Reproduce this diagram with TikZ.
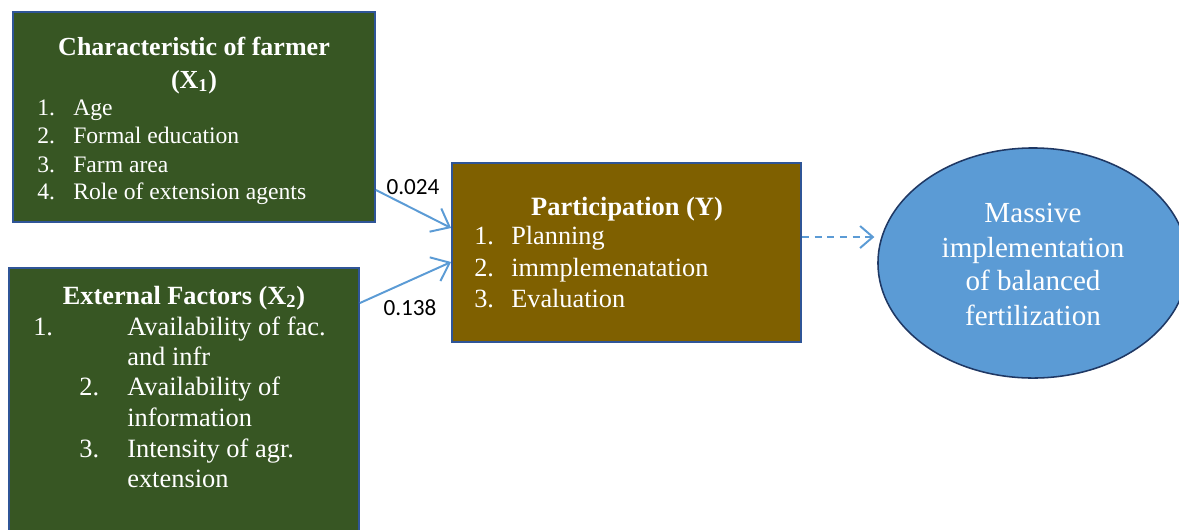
\documentclass[tikz,border=0pt]{standalone}
\usepackage{fontspec}
\setmainfont{Liberation Serif}
\newfontfamily\numfont{Carlito}
\usetikzlibrary{arrows.meta,shapes.geometric}
\definecolor{farmgreen}{HTML}{375623}
\definecolor{partbrown}{HTML}{7F6000}
\definecolor{ovalblue}{HTML}{5B9BD5}
\definecolor{edgeblue}{HTML}{2F5597}
\definecolor{ovaledge}{HTML}{1F3864}
\definecolor{arrowblue}{HTML}{5B9BD5}
\begin{document}
\begin{tikzpicture}[x=0.025cm,y=-0.025cm]
        \useasboundingbox (0,0) rectangle (1179,529);
        \begin{scope}[every node/.style={draw=edgeblue,line width=1.2pt,inner sep=0pt}]
            \node[fill=farmgreen,minimum width=9.05cm,minimum height=5.25cm] (x1) at (194,117) {};
            \node[fill=farmgreen,minimum width=8.75cm,minimum height=6.925cm] (x2) at (184,406.5) {};
            \node[fill=partbrown,minimum width=8.725cm,minimum height=4.475cm] (y) at (626.5,252.5) {};
            \node[ellipse,fill=ovalblue,draw=ovaledge,line width=1.1pt,minimum width=7.75cm,minimum height=5.75cm] (m) at (1033,263) {};
        \end{scope}
        \begin{scope}[every node/.style={text=white,inner sep=0pt,anchor=base west}]
            % characteristic of farmer
            \node[anchor=base,font=\fontsize{18.5}{22}\selectfont\bfseries] (x1t) at (194,55) {Characteristic of farmer};
            \node[anchor=base,font=\fontsize{18.5}{22}\selectfont\bfseries] (x1s) at (194,88) {(X\textsubscript{1})};
            \foreach \num/\txt/\yy in {1/Age/115,2/Formal education/143,3/Farm area/172,4/Role of extension agents/199}{
                \node[font=\fontsize{16.8}{20}\selectfont] (x1n\num) at (37,\yy) {\num.};
                \node[font=\fontsize{16.8}{20}\selectfont] (x1i\num) at (73,\yy) {\txt};
            }
            % external factors
            \node[anchor=base,font=\fontsize{18.7}{22}\selectfont\bfseries] (x2t) at (184,304) {External Factors (X\textsubscript{2})};
            \node[font=\fontsize{18.8}{22}\selectfont] (x2n1) at (33,335) {1.};
            \node[font=\fontsize{18.8}{22}\selectfont] (x2n2) at (79,395) {2.};
            \node[font=\fontsize{18.8}{22}\selectfont] (x2n3) at (79,457) {3.};
            \foreach \txt/\yy [count=\k] in {Availability of fac./335,and infr/365,Availability of/395,information/426,Intensity of agr./457,extension/487}{
                \node[font=\fontsize{18.8}{22}\selectfont] (x2i\k) at (127,\yy) {\txt};
            }
            % participation
            \node[anchor=base,font=\fontsize{18.8}{22}\selectfont\bfseries] (yt) at (627,215) {Participation (Y)};
            \foreach \num/\txt/\yy in {1/Planning/244,2/immplemenatation/276,3/Evaluation/307}{
                \node[font=\fontsize{18.7}{22}\selectfont] (yn\num) at (474,\yy) {\num.};
                \node[font=\fontsize{18.7}{22}\selectfont] (yi\num) at (511,\yy) {\txt};
            }
            % massive implementation
            \foreach \txt/\yy [count=\k] in {Massive/222,implementation/257,of balanced/290,fertilization/325}{
                \node[anchor=base,font=\fontsize{20.7}{24}\selectfont] (mi\k) at (1033,\yy) {\txt};
            }
        \end{scope}
        \begin{scope}[line width=1.4pt,draw=arrowblue,-{Straight Barb[length=4mm,width=6.5mm]}]
            \draw (x1.east |- 0,190) -- (y.west |- 0,228);
            \draw (x2.east |- 0,303) -- (y.west |- 0,262);
            \draw[dash pattern=on 5pt off 4pt,shorten >=2pt,-{Straight Barb[length=3.2mm,width=5.5mm]}] (y.east |- 0,237) -- (m.west |- 0,237);
        \end{scope}
        \node[font=\numfont\fontsize{16.5}{20}\selectfont] (c1) at (413,187) {0.024};
        \node[font=\numfont\fontsize{16.5}{20}\selectfont] (c2) at (410,308) {0.138};
    \end{tikzpicture}
\end{document}
